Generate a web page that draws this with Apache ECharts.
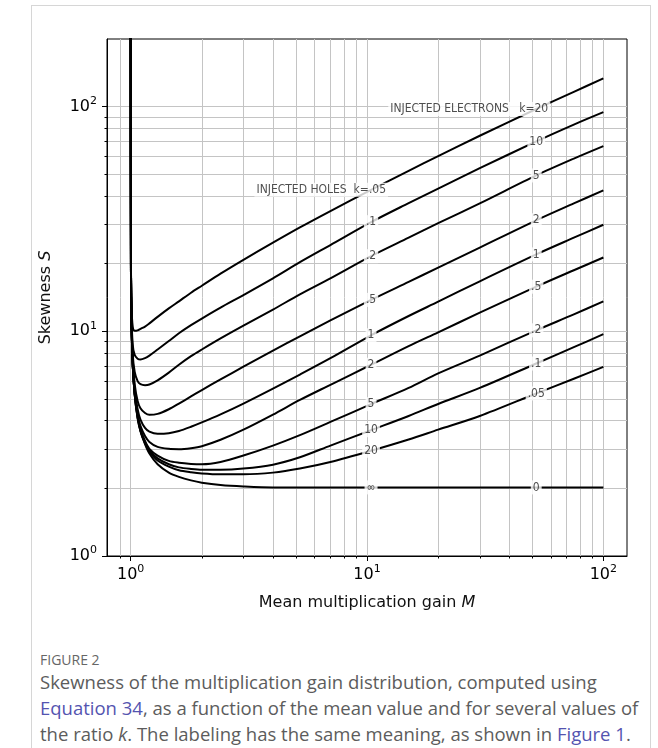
<!DOCTYPE html>
<html>
<head>
<meta charset="utf-8">
<script src="https://cdn.jsdelivr.net/npm/echarts@6/dist/echarts.min.js"></script>
<style>
  html, body { margin: 0; padding: 0; background: #fff; }
  body { width: 658px; height: 748px; position: relative; overflow: hidden; }
  #frame {
    position: absolute; left: 31px; top: 5px; width: 620px; height: 800px;
    border: 1px solid #d6d6d6; box-sizing: border-box;
  }
  #chart { position: absolute; left: 0; top: 0; width: 658px; height: 630px; }
  #caption {
    position: absolute; left: 40px; top: 651px; white-space: nowrap;
    font-family: "Open Sans", sans-serif; color: #5c5c5c;
  }
  #caption .fig { font-size: 14px; color: #666; line-height: 18px; }
  #caption .txt { font-size: 18.5px; line-height: 26px; }
  #caption .lnk { color: #5454b0; }
</style>
</head>
<body>
<div id="frame"></div>
<div id="chart"></div>
<div id="caption">
  <div class="fig">FIGURE 2</div>
  <div class="txt">Skewness of the multiplication gain distribution, computed using<br><span class="lnk">Equation 34</span>, as a function of the mean value and for several values of<br>the ratio <i>k</i>. The labeling has the same meaning, as shown in <span class="lnk">Figure 1</span>.</div>
</div>
<script>
// mean gain M sampled along every curve
const gainM = [1.0001, 1.003, 1.008, 1.02, 1.04, 1.07, 1.1, 1.15, 1.2, 1.3, 1.45, 1.6, 1.8, 2,
  2.4, 3, 4, 5.2, 7, 10.4, 15, 20, 30, 52, 75, 100];

// skewness S, one array per curve (named by hole-injection k)
const skewH005 = [300, 19.5, 13.0, 10.5, 10.05, 10.1, 10.25, 10.5, 10.85, 11.6, 12.65, 13.6, 14.85, 15.95,
  18.05, 20.8, 24.8, 29.0, 34.3, 42.6, 51.8, 60.2, 74.2, 97.6, 116.4, 133.5];
const skewH01 = [300, 19.0, 12.0, 8.7, 7.85, 7.55, 7.49, 7.6, 7.8, 8.3, 9.05, 9.8, 10.65, 11.4,
  12.75, 14.5, 17.2, 20.3, 24.2, 30.6, 37.2, 43.2, 53.2, 70.0, 83.2, 94.5];
const skewH02 = [300, 18.7, 11.6, 7.9, 6.6, 6.0, 5.82, 5.76, 5.8, 6.05, 6.55, 7.1, 7.75, 8.3,
  9.3, 10.6, 12.5, 14.6, 17.2, 21.6, 26.1, 30.3, 37.1, 49.4, 58.7, 66.7];
const skewH05 = [300, 18.5, 11.4, 7.5, 5.8, 4.9, 4.55, 4.33, 4.25, 4.29, 4.5, 4.77, 5.13, 5.48,
  6.11, 6.96, 8.2, 9.5, 11.19, 13.8, 16.6, 19.2, 23.6, 31.2, 37.1, 42.4];
const skewH1 = [300, 18.3, 11.2, 7.3, 5.5, 4.5, 4.05, 3.72, 3.58, 3.5, 3.52, 3.6, 3.76, 3.93,
  4.27, 4.77, 5.56, 6.42, 7.59, 9.6, 11.7, 13.55, 16.7, 22.0, 26.1, 29.8];
const skewH2 = [300, 18.3, 11.1, 7.1, 5.3, 4.25, 3.8, 3.42, 3.22, 3.06, 3.0, 2.99, 3.02, 3.08,
  3.29, 3.65, 4.26, 4.95, 5.78, 7.1, 8.6, 9.9, 12.1, 15.8, 18.7, 21.3];
const skewH5 = [300, 18.3, 11.1, 7.1, 5.25, 4.15, 3.68, 3.25, 3.0, 2.8, 2.65, 2.6, 2.57, 2.56,
  2.62, 2.8, 3.1, 3.45, 3.95, 4.74, 5.6, 6.5, 7.8, 10.1, 11.9, 13.6];
const skewH10 = [300, 18.3, 11.1, 7.1, 5.22, 4.12, 3.62, 3.2, 2.95, 2.72, 2.56, 2.48, 2.44, 2.42,
  2.42, 2.45, 2.55, 2.75, 3.1, 3.63, 4.2, 4.75, 5.6, 7.19, 8.5, 9.71];
const skewH20 = [300, 18.3, 11.1, 7.1, 5.21, 4.1, 3.6, 3.17, 2.92, 2.66, 2.5, 2.41, 2.36, 2.33,
  2.31, 2.31, 2.35, 2.45, 2.62, 2.94, 3.3, 3.65, 4.2, 5.29, 6.15, 6.95];
const skewHinf = [300, 18.3, 11.2, 7.2, 5.3, 4.3, 3.6, 3.15, 2.86, 2.56, 2.35, 2.25, 2.17, 2.12,
  2.07, 2.04, 2.02, 2.02, 2.02, 2.02, 2.02, 2.02, 2.02, 2.02, 2.02, 2.02];

// inline curve labels
const holeLabels = ['INJECTED HOLES  k=.05', '.1', '.2', '.5', '1', '2', '5', '10', '20', '\u221e'];
const electronLabels = ['INJECTED ELECTRONS   k=20', '10', '5', '2', '1', '.5', '.2', '.1', '.05', '0'];
const holeLabelM = 10.4;
const holeLabelS = [42.7, 30.6, 21.6, 13.8, 9.6, 7.1, 4.74, 3.63, 2.94, 2.02];
const electronLabelM = 52;
const electronLabelS = [97.6, 70.0, 49.4, 31.2, 22.0, 15.8, 10.1, 7.19, 5.29, 2.02];

// axis ranges and tick values
const xLimits = [0.794, 125.9];
const yLimits = [1, 200];
const xMajor = [1, 10, 100];
const yMajor = [1, 10, 100];
const xGrid = [0.9, 1, 2, 3, 4, 5, 6, 7, 8, 9, 10, 20, 30, 40, 50, 60, 70, 80, 90, 100];
const yGrid = [2, 3, 4, 5, 6, 7, 8, 9, 10, 20, 30, 40, 50, 60, 70, 80, 90, 100];

const lg = Math.log10;
const curves = [skewH005, skewH01, skewH02, skewH05, skewH1, skewH2, skewH5, skewH10, skewH20, skewHinf];

const tickFont = 'DejaVu Sans';
const powRich = {
  b: { fontSize: 16, fontFamily: tickFont, color: '#000', lineHeight: 22 },
  s: { fontSize: 11, fontFamily: tickFont, color: '#000', verticalAlign: 'top', lineHeight: 12 }
};
const powLabel = v => '{b|10}{s|' + Math.round(v) + '}';

const chart = echarts.init(document.getElementById('chart'), null, { renderer: 'canvas' });

const lineSeries = curves.map((s, i) => ({
  name: 'k' + i,
  type: 'line',
  data: gainM.map((m, j) => [lg(m), lg(s[j])]),
  showSymbol: false,
  smooth: 0.3,
  clip: true,
  z: 2,
  lineStyle: { color: '#000', width: 2, join: 'round' },
  emphasis: { disabled: true },
  silent: true
}));

const labelBase = {
  show: true,
  position: 'inside',
  formatter: '{b}',
  color: '#222',
  fontFamily: 'DejaVu Sans Condensed',
  fontSize: 12,
  backgroundColor: '#fff',
  padding: [1, 2]
};

const makeLabelData = (names, m, vals, firstOffset) => vals.map((s, i) => {
  const item = { name: names[i], value: [lg(m), lg(s)] };
  if (i === 0) item.label = { align: 'right', offset: firstOffset };
  return item;
});

const labelSeries = {
  type: 'scatter',
  symbolSize: 1,
  itemStyle: { color: 'transparent' },
  z: 5,
  silent: true,
  label: labelBase,
  data: makeLabelData(holeLabels, holeLabelM, holeLabelS, [17, 0])
    .concat(makeLabelData(electronLabels, electronLabelM, electronLabelS, [14, 0]))
};

const nameRich = {
  t: { fontSize: 16, fontFamily: tickFont, color: '#111' },
  i: { fontSize: 16, fontFamily: tickFont, fontStyle: 'italic', color: '#111' }
};

chart.setOption({
  animation: false,
  grid: {
    left: 107, top: 39, width: 520, height: 517,
    show: true, borderColor: '#000', borderWidth: 1, backgroundColor: 'transparent'
  },
  xAxis: [
    {
      type: 'value', min: lg(xLimits[0]), max: lg(xLimits[1]), position: 'bottom',
      name: '{t|Mean multiplication gain }{i|M}',
      nameLocation: 'middle', nameGap: 39,
      nameTextStyle: { rich: nameRich },
      axisLine: { show: true, onZero: false, lineStyle: { color: '#000', width: 1 } },
      axisTick: { show: true, customValues: xGrid.map(lg), length: 2.5, lineStyle: { color: '#000' } },
      splitLine: { show: true, customValues: xGrid.map(lg), lineStyle: { color: '#c4c4c4', width: 1 } },
      axisLabel: { show: true, customValues: xMajor.map(lg), formatter: powLabel, rich: powRich, margin: 8 }
    },
    {
      type: 'value', min: lg(xLimits[0]), max: lg(xLimits[1]), position: 'bottom',
      axisLine: { show: false, onZero: false },
      axisTick: { show: true, customValues: xMajor.map(lg), length: 5, lineStyle: { color: '#000' } },
      splitLine: { show: false },
      axisLabel: { show: false }
    }
  ],
  yAxis: [
    {
      type: 'value', min: lg(yLimits[0]), max: lg(yLimits[1]), position: 'left',
      name: '{t|Skewness }{i|S}',
      nameLocation: 'middle', nameGap: 53, nameRotate: 90,
      nameTextStyle: { rich: nameRich },
      axisLine: { show: true, onZero: false, lineStyle: { color: '#000', width: 1 } },
      axisTick: { show: true, customValues: yGrid.map(lg), length: 2.5, lineStyle: { color: '#000' } },
      splitLine: { show: true, customValues: yGrid.map(lg), lineStyle: { color: '#c4c4c4', width: 1 } },
      axisLabel: { show: true, customValues: yMajor.map(lg), formatter: powLabel, rich: powRich, margin: 10 }
    },
    {
      type: 'value', min: lg(yLimits[0]), max: lg(yLimits[1]), position: 'left',
      axisLine: { show: false, onZero: false },
      axisTick: { show: true, customValues: yMajor.map(lg), length: 5, lineStyle: { color: '#000' } },
      splitLine: { show: false },
      axisLabel: { show: false }
    }
  ],
  series: lineSeries.concat([labelSeries])
});
</script>
</body>
</html>
